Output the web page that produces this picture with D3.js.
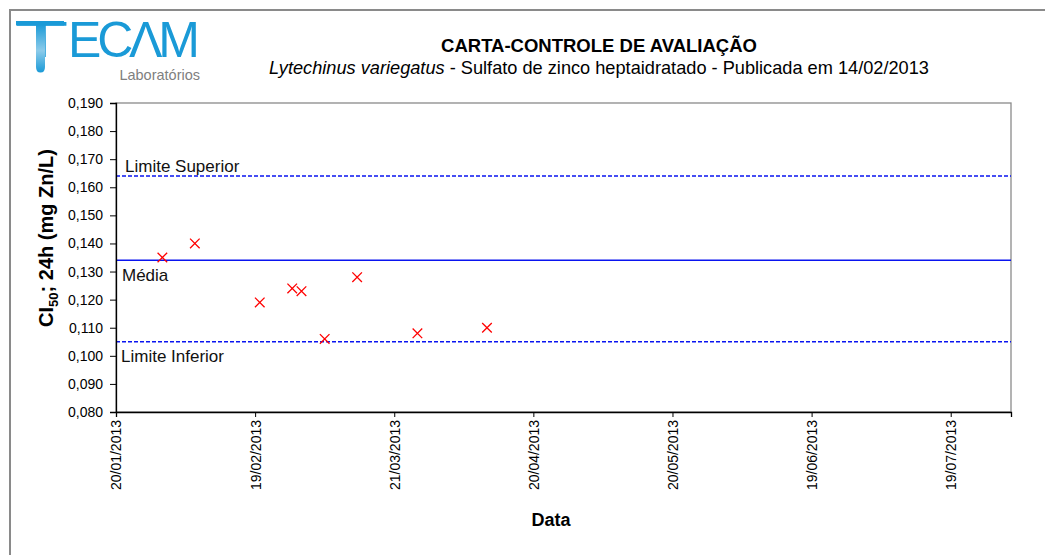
<!DOCTYPE html>
<html><head><meta charset="utf-8">
<script src="https://cdn.jsdelivr.net/npm/d3@7"></script>
<style>
html,body{margin:0;padding:0;background:#fff;}
svg{display:block;}
text{font-family:"Liberation Sans",Arial,sans-serif;}
</style></head>
<body>
<svg id="chart" width="1045" height="555"></svg>
<script>
// ---- data ----
const sampleDates = ["30/01/2013","06/02/2013","20/02/2013","27/02/2013","01/03/2013","06/03/2013","13/03/2013","26/03/2013","10/04/2013"];
const sampleValues = [0.135, 0.140, 0.119, 0.124, 0.123, 0.106, 0.128, 0.108, 0.110];
const limitNames = ["Limite Superior", "Média", "Limite Inferior"];
const limitValues = [0.164, 0.134, 0.105];
const xTickLabels = ["20/01/2013","19/02/2013","21/03/2013","20/04/2013","20/05/2013","19/06/2013","19/07/2013"];
const xDomainLabels = ["20/01/2013","01/08/2013"];
const yTickValues = [0.080,0.090,0.100,0.110,0.120,0.130,0.140,0.150,0.160,0.170,0.180,0.190];
const titleText = "CARTA-CONTROLE DE AVALIAÇÃO";
const subtitleItalic = "Lytechinus variegatus";
const subtitleRest = " - Sulfato de zinco heptaidratado - Publicada em 14/02/2013";

const parse = d3.timeParse("%d/%m/%Y");
const svg = d3.select("#chart");

// outer frame
svg.append("rect").attr("x",10).attr("y",10).attr("width",1045).attr("height",560)
  .attr("fill","none").attr("stroke","#8a8a8a").attr("stroke-width",2);

// logo
const defs = svg.append("defs");
const grad = defs.append("linearGradient").attr("id","tube").attr("x1",0).attr("x2",0).attr("y1",0).attr("y2",1);
grad.append("stop").attr("offset","0%").attr("stop-color","#1a9ad7");
grad.append("stop").attr("offset","55%").attr("stop-color","#8ccbea");
grad.append("stop").attr("offset","100%").attr("stop-color","#1a9ad7");
const logo = svg.append("g");
logo.append("text").attr("transform","translate(15,57) scale(1.75,1)").attr("x",0).attr("y",0)
  .attr("font-family","Lato").attr("font-weight",300).attr("font-size",50).attr("fill","#1a9ad7").text("T");
logo.append("path").attr("d","M36,24 L45,24 L45,67 Q45,72.5 40.5,72.5 Q36,72.5 36,67 Z")
  .attr("fill","url(#tube)");
logo.append("rect").attr("x",16).attr("y",21).attr("width",48).attr("height",4.5).attr("fill","#1a9ad7");
logo.append("text").attr("x",68).attr("y",57).attr("font-family","Lato").attr("font-weight",300)
  .attr("font-size",50).attr("fill","#1a9ad7").attr("textLength",132).attr("lengthAdjust","spacing").text("ECΛM");
logo.append("text").attr("x",200).attr("y",80).attr("text-anchor","end")
  .attr("font-size",14.5).attr("fill","#808080").text("Laboratórios");

// titles
svg.append("text").attr("x",599).attr("y",52).attr("text-anchor","middle")
  .attr("font-size",18.5).attr("font-weight","bold").text(titleText);
const sub = svg.append("text").attr("x",599).attr("y",74).attr("text-anchor","middle").attr("font-size",18.2);
sub.append("tspan").attr("font-style","italic").text(subtitleItalic);
sub.append("tspan").text(subtitleRest);

// plot area
const L = 116, R = 1011, T = 103, B = 412;
const x = d3.scaleTime().domain(xDomainLabels.map(parse)).range([L, R]);
const y = d3.scaleLinear().domain([0.080, 0.190]).range([B, T]);
const fmt = v => d3.format(".3f")(v).replace(".", ",");

// plot border (gray right/top)
svg.append("rect").attr("x",L).attr("y",T).attr("width",R-L).attr("height",B-T)
  .attr("fill","none").attr("stroke","#8a8a8a").attr("stroke-width",1.3);

// limit lines
limitValues.forEach((v,i)=>{
  const ln = svg.append("line").attr("x1",L).attr("x2",R).attr("y1",y(v)).attr("y2",y(v))
    .attr("stroke","#0a14f0").attr("stroke-width",1.4);
  if (i !== 1) ln.attr("stroke-dasharray","4,2");
});
const labelPos = [{dx:9, dy:-4}, {dx:6, dy:21}, {dx:5, dy:20}];
limitNames.forEach((n,i)=>{
  svg.append("text").attr("x",L+labelPos[i].dx).attr("y",y(limitValues[i])+labelPos[i].dy)
    .attr("font-size",17).attr("fill","#111").text(n);
});

// axes
const yAxis = svg.append("g").attr("transform",`translate(${L},0)`)
  .call(d3.axisLeft(y).tickValues(yTickValues).tickFormat(fmt).tickSize(6).tickPadding(7));
const xAxis = svg.append("g").attr("transform",`translate(0,${B})`)
  .call(d3.axisBottom(x).tickValues(xTickLabels.map(parse)).tickFormat(d3.timeFormat("%d/%m/%Y")).tickSize(5));
[yAxis, xAxis].forEach(a=>{
  a.select(".domain").attr("stroke","#000").attr("stroke-width",1.3);
  a.selectAll(".tick line").attr("stroke","#000");
  a.selectAll("text").attr("font-family","Liberation Sans, Arial, sans-serif").attr("font-size",14).attr("fill","#000");
});
xAxis.selectAll(".tick text").attr("transform","rotate(-90)").attr("text-anchor","end")
  .attr("x",-8).attr("y",0).attr("dy","0.35em");

// axis titles
const yl = svg.append("text").attr("transform","translate(53,238) rotate(-90)")
  .attr("text-anchor","middle").attr("font-size",20).attr("font-weight","bold");
yl.append("tspan").text("CI");
yl.append("tspan").attr("font-size",13).attr("dy",5).text("50");
yl.append("tspan").attr("dy",-5).text("; 24h (mg Zn/L)");
svg.append("text").attr("x",551).attr("y",526).attr("text-anchor","middle")
  .attr("font-size",18).attr("font-weight","bold").text("Data");

// markers
const s = 4.8;
const pts = svg.append("g");
sampleDates.forEach((d,i)=>{
  const cx = x(parse(d)), cy = y(sampleValues[i]);
  pts.append("path").attr("d",`M${cx-s},${cy-s}L${cx+s},${cy+s}M${cx-s},${cy+s}L${cx+s},${cy-s}`)
    .attr("stroke","#ff0000").attr("stroke-width",1.3).attr("fill","none");
});
</script>
</body></html>
